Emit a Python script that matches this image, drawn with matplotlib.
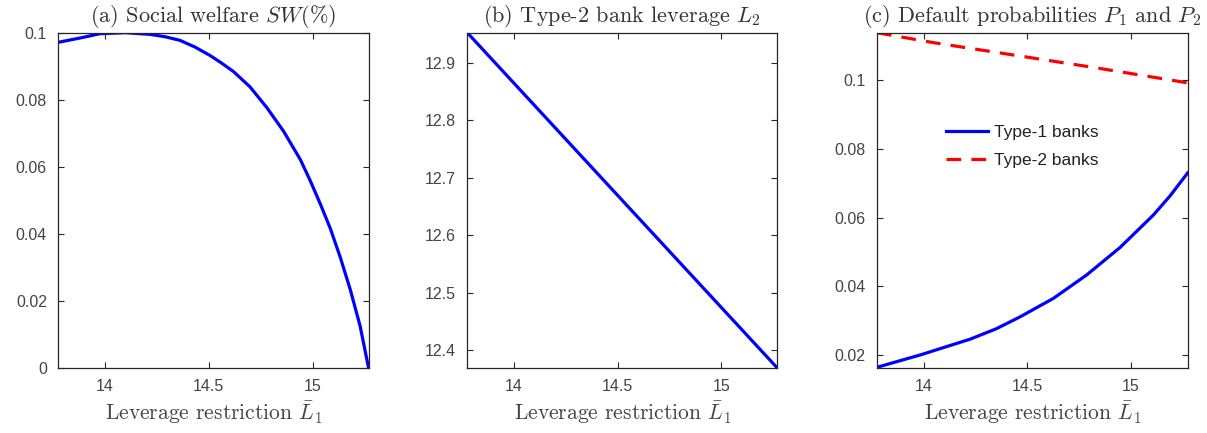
import matplotlib
matplotlib.use("Agg")
import matplotlib.pyplot as plt
from matplotlib.ticker import FuncFormatter

plt.rcParams['mathtext.fontset'] = 'cm'
plt.rcParams['font.family'] = ['Liberation Sans', 'DejaVu Sans']

# ---- data ----
sw_x = [13.773, 13.895, 13.976, 14.100, 14.217, 14.290, 14.362, 14.434, 14.506, 14.560, 14.619,
        14.699, 14.780, 14.860, 14.942, 14.988, 15.037, 15.085, 15.133, 15.181, 15.229, 15.270]
sw_y = [0.0973, 0.0988, 0.0999, 0.1002, 0.0997, 0.0990, 0.0979, 0.0959, 0.0934, 0.0912, 0.0886,
        0.0840, 0.0778, 0.0708, 0.0622, 0.0561, 0.0491, 0.0418, 0.0332, 0.0236, 0.0126, 0.0]

l2_x = [13.774, 14.500, 15.270]
l2_y = [12.952, 12.669, 12.369]

p1_x = [13.775, 13.984, 14.225, 14.350, 14.466, 14.627, 14.787, 14.948, 15.108, 15.189, 15.274]
p1_y = [0.0164, 0.0200, 0.0246, 0.0276, 0.0311, 0.0365, 0.0433, 0.0513, 0.0607, 0.0663, 0.0730]

p2_x = [13.775, 14.048, 14.370, 14.850, 15.274]
p2_y = [0.1138, 0.1109, 0.1079, 0.1034, 0.0992]

x_ticks = [14, 14.5, 15]
sw_ticks = [0, 0.02, 0.04, 0.06, 0.08, 0.1]
l2_ticks = [12.4, 12.5, 12.6, 12.7, 12.8, 12.9]
p_ticks = [0.02, 0.04, 0.06, 0.08, 0.1]

titles = [r"(a) Social welfare $SW(\%)$",
          r"(b) Type-2 bank leverage $L_2$",
          r"(c) Default probabilities $P_1$ and $P_2$"]
xlabel = r"Leverage restriction $\bar{L}_1$"
legend_labels = ["Type-1 banks", "Type-2 banks"]

# ---- figure ----
W, H = 1207, 433
fig = plt.figure(figsize=(W / 100, H / 100), dpi=100)
edge = '#262626'
lefts = [58, 467.3, 876.7]
widths = [311, 310, 311]
bottom = (H - 368) / H
height = (368 - 32.7) / H
axes = [fig.add_axes([l / W, bottom, w / W, height]) for l, w in zip(lefts, widths)]

fmt = FuncFormatter(lambda v, p: ('%g' % round(v, 6)))
lw = 2.3
blue = '#0000ff'
red = '#ff0000'

ax = axes[0]
ax.plot(sw_x, sw_y, color=blue, lw=lw)
ax.set_xlim(13.774, 15.272)
ax.set_ylim(0, 0.1002)
ax.set_yticks(sw_ticks)

ax = axes[1]
ax.plot(l2_x, l2_y, color=blue, lw=lw)
ax.set_xlim(13.774, 15.270)
ax.set_ylim(12.369, 12.952)
ax.set_yticks(l2_ticks)

ax = axes[2]
ax.plot(p1_x, p1_y, color=blue, lw=lw, label=legend_labels[0])
ax.plot(p2_x, p2_y, color=red, lw=lw, dashes=(4.6, 3.2), label=legend_labels[1])
ax.set_xlim(13.774, 15.274)
ax.set_ylim(0.0162, 0.1138)
ax.set_yticks(p_ticks)
leg = ax.legend(loc='upper left', bbox_to_anchor=(0.20, 0.745), frameon=False,
                fontsize=12.5, handlelength=2.4, handletextpad=0.35,
                labelspacing=0.75, borderaxespad=0)
for t in leg.get_texts():
    t.set_color('#222222')

for ax, t in zip(axes, titles):
    ax.set_xticks(x_ticks)
    ax.xaxis.set_major_formatter(fmt)
    ax.yaxis.set_major_formatter(fmt)
    ax.set_title(t, fontsize=16, pad=8, color='#333333', family='cmr10')
    ax.set_xlabel(xlabel, fontsize=15.5, labelpad=4, color='#444444', family='cmr10')
    ax.tick_params(direction='in', top=True, right=True, length=4, width=0.8,
                   colors=edge, labelsize=11.5, labelcolor='#444444', pad=8)
    for s in ax.spines.values():
        s.set_color(edge)
        s.set_linewidth(0.9)

fig.savefig("out.png", dpi=100)
